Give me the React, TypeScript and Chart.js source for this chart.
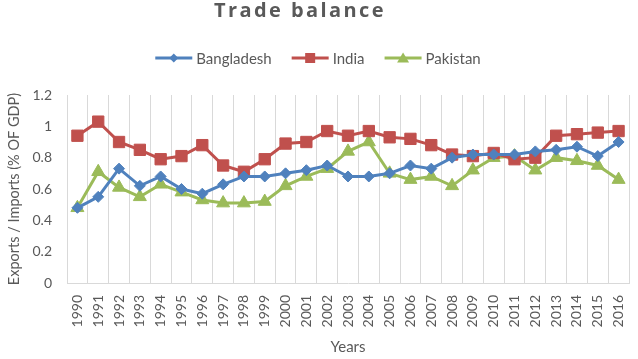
import React, { useEffect, useRef } from "react";
import { Chart, registerables } from "chart.js";

Chart.register(...registerables);

const years = ["1990","1991","1992","1993","1994","1995","1996","1997","1998","1999","2000","2001","2002","2003","2004","2005","2006","2007","2008","2009","2010","2011","2012","2013","2014","2015","2016"];
const bangladesh = [0.48,0.55,0.73,0.62,0.68,0.60,0.57,0.63,0.68,0.68,0.70,0.72,0.75,0.68,0.68,0.70,0.75,0.73,0.80,0.82,0.82,0.82,0.84,0.85,0.87,0.81,0.90];
const india = [0.94,1.03,0.90,0.85,0.79,0.81,0.88,0.75,0.71,0.79,0.89,0.90,0.97,0.94,0.97,0.93,0.92,0.88,0.82,0.81,0.83,0.79,0.80,0.94,0.95,0.96,0.97];
const pakistan = [0.48,0.71,0.61,0.55,0.63,0.58,0.53,0.51,0.51,0.52,0.62,0.68,0.73,0.84,0.90,0.70,0.66,0.68,0.62,0.72,0.80,0.81,0.72,0.80,0.78,0.75,0.66];
const seriesNames = ["Bangladesh", "India", "Pakistan"];
const chartTitle = "Trade balance";
const xTitle = "Years";
const yTitle = "Exports / Imports (% OF GDP)";
const colors = ["#4f81bd", "#c0504d", "#9bbb59"];
const styles = ["rectRot", "rect", "triangle"];
const radii = [5.5, 8, 7.5];

const TEXT = "#595959";
const FONT = "Lato";

function drawMarker(ctx: CanvasRenderingContext2D, style: string, x: number, y: number) {
  ctx.beginPath();
  if (style === "rectRot") {
    ctx.moveTo(x, y - 4.5); ctx.lineTo(x + 4.5, y); ctx.lineTo(x, y + 4.5); ctx.lineTo(x - 4.5, y);
  } else if (style === "rect") {
    ctx.rect(x - 5, y - 5, 10, 10);
  } else {
    ctx.moveTo(x, y - 5.5); ctx.lineTo(x + 6, y + 4.5); ctx.lineTo(x - 6, y + 4.5);
  }
  ctx.closePath();
  ctx.fill();
}

const headerPlugin = {
  id: "header",
  afterDraw(chart: any) {
    const ctx: CanvasRenderingContext2D = chart.ctx;
    ctx.save();
    // title
    ctx.font = "bold 20px 'Open Sans'";
    (ctx as any).letterSpacing = "2.4px";
    ctx.fillStyle = TEXT;
    ctx.textBaseline = "alphabetic";
    ctx.textAlign = "left";
    const tw = ctx.measureText(chartTitle).width;
    ctx.fillText(chartTitle, 300 - tw / 2, 17);
    (ctx as any).letterSpacing = "0px";
    // legend
    ctx.font = `15px ${FONT}`;
    ctx.textBaseline = "middle";
    const lineLen = 37;
    const gapText = 4;
    const gapItem = 20;
    const widths = seriesNames.map((n) => lineLen + gapText + ctx.measureText(n).width);
    const total = widths.reduce((a, b) => a + b, 0) + gapItem * (widths.length - 1);
    let x = 318 - total / 2;
    const y = 58;
    chart.data.datasets.forEach((ds: any, i: number) => {
      ctx.strokeStyle = colors[i];
      ctx.fillStyle = colors[i];
      ctx.lineWidth = 3;
      ctx.beginPath();
      ctx.moveTo(x, y);
      ctx.lineTo(x + lineLen, y);
      ctx.stroke();
      drawMarker(ctx, styles[i], x + lineLen / 2, y);
      ctx.fillStyle = TEXT;
      ctx.fillText(ds.label, x + lineLen + gapText, y + 1);
      x += widths[i] + gapItem;
    });
    ctx.restore();
  },
};

export default function App() {
  const ref = useRef<HTMLCanvasElement | null>(null);
  useEffect(() => {
    if (!ref.current) return;
    const dataArrays = [bangladesh, india, pakistan];
    const chart = new Chart(ref.current, {
      type: "line",
      data: {
        labels: years,
        datasets: dataArrays.map((d, i) => ({
          label: seriesNames[i],
          data: d,
          borderColor: colors[i],
          backgroundColor: colors[i],
          borderWidth: 3,
          pointStyle: styles[i] as any,
          pointRadius: radii[i],
          pointBorderWidth: 1,
          pointBackgroundColor: colors[i],
          pointBorderColor: colors[i],
          tension: 0,
        })),
      },
      plugins: [headerPlugin],
      options: {
        animation: false,
        responsive: true,
        maintainAspectRatio: false,
        layout: { padding: { left: 0, right: 6, top: 95, bottom: 0 } },
        plugins: {
          tooltip: { enabled: false },
          title: { display: false },
          legend: { display: false },
        },
        scales: {
          x: {
            offset: true,
            afterFit: (s: any) => {
              s.height = 76;
              s.paddingLeft = 0;
              s.paddingRight = 0;
            },
            grid: { display: true, offset: true, color: "#d9d9d9", lineWidth: 1, drawTicks: false },
            border: { display: true, color: "#d9d9d9" },
            ticks: {
              color: TEXT,
              font: { family: FONT, size: 14 },
              maxRotation: 90,
              minRotation: 90,
              autoSkip: false,
              padding: 12,
            },
            title: {
              display: true,
              text: xTitle,
              color: TEXT,
              font: { family: FONT, size: 15 },
              padding: { top: 0, bottom: 3 },
            },
          },
          y: {
            min: 0,
            max: 1.2,
            afterFit: (s: any) => { s.width = 67; },
            grid: { display: false, drawTicks: false },
            border: { display: false },
            ticks: {
              stepSize: 0.2,
              color: TEXT,
              font: { family: FONT, size: 14 },
              padding: 15,
              callback: (v: any) => String(Math.round(Number(v) * 10) / 10),
            },
            title: {
              display: true,
              text: yTitle,
              color: TEXT,
              font: { family: FONT, size: 14.5 },
              padding: { top: 6, bottom: 0 },
            },
          },
        },
      },
    });
    return () => chart.destroy();
  }, []);
  return (
    <div style={{ position: "fixed", left: 0, top: 0, width: 638, height: 359, background: "#fff" }}>
      <canvas ref={ref} />
    </div>
  );
}
